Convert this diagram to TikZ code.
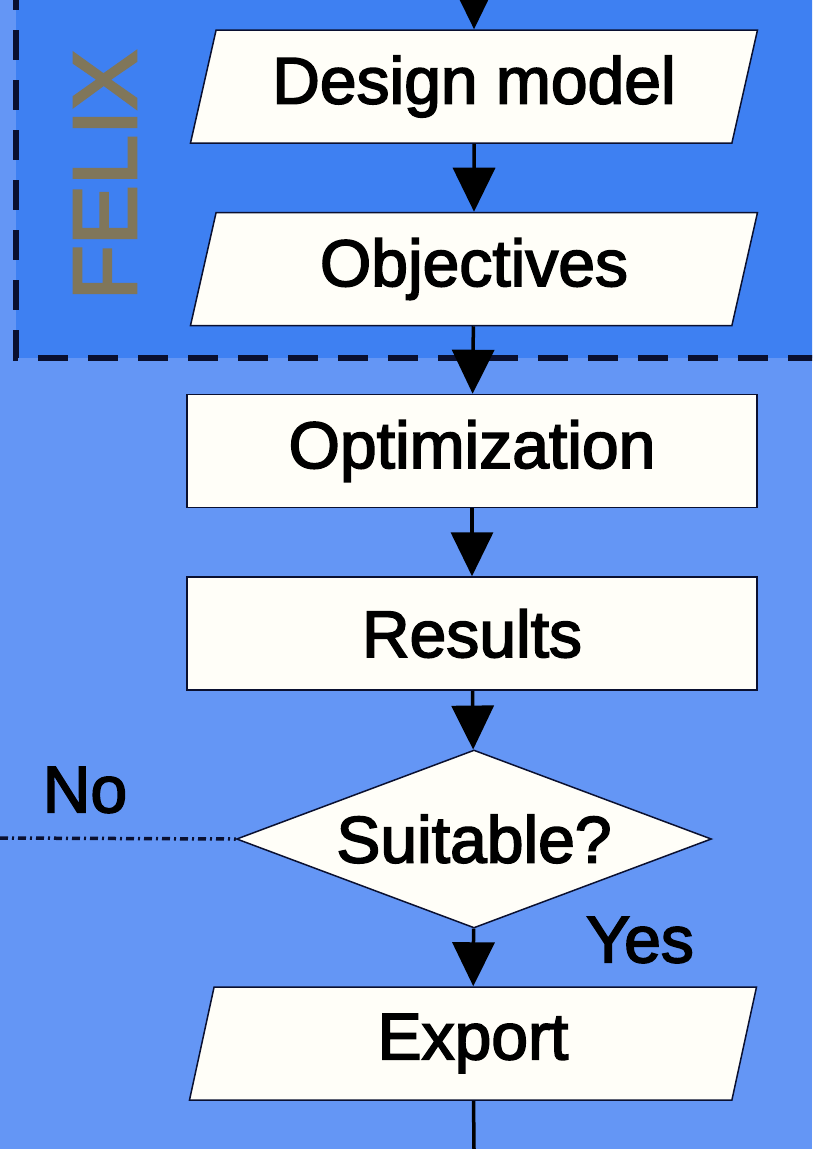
\documentclass[tikz,border=0pt]{standalone}
\usepackage{fontspec}
\setmainfont{Liberation Sans}
\usetikzlibrary{shapes.geometric,arrows.meta}
\definecolor{outerblue}{RGB}{100,150,245}
\definecolor{innerblue}{RGB}{62,128,242}
\definecolor{navy}{RGB}{10,16,48}
\definecolor{felixgray}{RGB}{128,118,90}
\definecolor{boxwhite}{RGB}{255,254,248}
\newcommand{\boxfont}{\fontsize{66}{70}\selectfont\addfontfeature{FakeBold=2.5}}
\tikzset{
  box/.style={draw=navy, line width=1.5pt, fill=boxwhite, font=\boxfont, text=black},
  procbox/.style={box, rectangle, minimum width=570pt, minimum height=113pt, inner sep=0pt},
  iobox/.style={box, trapezium, trapezium left angle=67.4, trapezium right angle=112.6,
     trapezium stretches body=true, minimum width=567pt, minimum height=113pt, inner sep=0pt},
  decbox/.style={box, diamond, shape aspect=2.67, minimum width=475pt, minimum height=178pt, inner sep=0pt},
  flow/.style={line width=3.5pt, black, -{Triangle[length=44pt,width=42pt]}},
  lbl/.style={font=\boxfont, text=black, inner sep=0pt},
}
\begin{document}
\begin{tikzpicture}[x=1pt,y=-1pt]
\useasboundingbox (0,0) rectangle (812,1149);
\clip (0,0) rectangle (812,1149);
\fill[outerblue] (0,0) rectangle (812,1149);
\fill[innerblue] (16,-20) rectangle (830,358);
\draw[navy, line width=6pt, dash pattern=on 30pt off 20pt] (16,-20) -- (16,358) -- (830,358);
\node[rotate=90, text=felixgray, font=\fontsize{90}{90}\selectfont\addfontfeature{FakeBold=3}, inner sep=0pt] (felix) at (105,175) {FELIX};
\node[iobox] (dm) at (474,86.5) {Design model};
\node[iobox] (ob) at (474,269) {Objectives};
\node[procbox] (op) at (472,451) {Optimization};
\node[procbox] (re) at (472,633.5) {Results};
\node[decbox] (su) at (474,839) {Suitable?};
\node[iobox] (ex) at (473,1043.5) {Export};
\coordinate (top) at (474,0);
\coordinate (bot) at (474,1149);
\coordinate (nofree) at (0,838);
\node[lbl] (no) at (85,790) {No};
\node[lbl] (yes) at (640,940) {Yes};
\draw[flow] (top) -- (dm);
\draw[flow] (dm) -- (ob);
\draw[flow] (ob) -- (op);
\draw[flow] (op) -- (re);
\draw[flow] (re) -- (su);
\draw[flow] (su) -- (ex);
\draw[line width=3.5pt, black] (ex) -- (bot);
\draw[navy, line width=3.5pt, dash pattern=on 8pt off 4pt on 2pt off 4pt] (nofree) -- (su.west);
\end{tikzpicture}
\end{document}
